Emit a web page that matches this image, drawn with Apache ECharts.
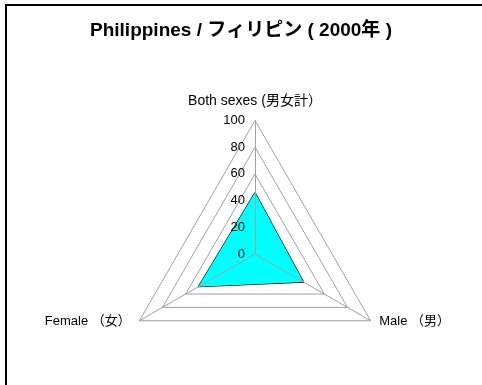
<!DOCTYPE html>
<html>
<head>
<meta charset="utf-8">
<script src="https://cdn.jsdelivr.net/npm/echarts@6/dist/echarts.min.js"></script>
<style>
  html, body { margin: 0; padding: 0; background: #fff; }
  #main { width: 482px; height: 385px; }
</style>
</head>
<body>
<div id="main"></div>
<script>
var indicatorNames = ["Both sexes (男女計）", "Female （女）", "Male （男）"];
var values = [46, 49, 42];
var tickMax = 100;

var font = "'Liberation Sans', Arial, 'Noto Sans CJK JP', sans-serif";
var gray = "#a0a0a0";

var chart = echarts.init(document.getElementById("main"));

// lower radar: rings + names, upper radar: spokes + tick labels (drawn over the fill)
var indicator0 = indicatorNames.map(function (n) {
  return { name: n, min: 0, max: tickMax, axisLabel: { show: false } };
});
var indicator1 = indicatorNames.map(function (n, i) {
  return { name: n, min: 0, max: tickMax, axisLabel: { show: i === 0 } };
});

chart.setOption({
  animation: false,
  title: {
    text: "Philippines / フィリピン ( 2000年 )",
    left: "center",
    top: 16,
    textStyle: { fontFamily: font, fontSize: 19, fontWeight: "bold", color: "#000" }
  },
  graphic: [
    {
      type: "rect",
      shape: { x: 6, y: 5, width: 520, height: 420 },
      style: { fill: null, stroke: "#000", lineWidth: 2 },
      silent: true
    }
  ],
  radar: [
    {
      center: [255, 254],
      radius: 133.5,
      splitNumber: 5,
      indicator: indicator0,
      nameGap: 10,
      axisName: {
        color: "#000",
        fontFamily: font,
        fontSize: 13,
        formatter: function (name) {
          return name.indexOf("Both") === 0 ? "{t|" + name + "}" : "{s|" + name + "}";
        },
        rich: {
          t: { fontFamily: font, fontSize: 14, color: "#000", padding: [0, 0, 2, 0] },
          s: { fontFamily: font, fontSize: 13, color: "#000", padding: [0, 0, 8, 0] }
        }
      },
      splitLine: { lineStyle: { color: gray, width: 1 } },
      splitArea: { show: false },
      axisLine: { show: false },
      axisLabel: { show: false }
    },
    {
      center: [255, 254],
      radius: 133.5,
      splitNumber: 5,
      z: 3,
      indicator: indicator1,
      axisName: { show: false },
      splitLine: { show: false },
      splitArea: { show: false },
      axisLine: { lineStyle: { color: gray, width: 1 } },
      axisLabel: { show: true, color: "#000", fontFamily: font, fontSize: 13, margin: 10 }
    }
  ],
  series: [
    {
      type: "radar",
      radarIndex: 0,
      symbol: "none",
      itemStyle: { color: "#000" },
      lineStyle: { color: "#000", width: 1.2 },
      areaStyle: { color: "#00ffff", opacity: 1 },
      data: [{ value: values }]
    }
  ]
});
</script>
</body>
</html>
